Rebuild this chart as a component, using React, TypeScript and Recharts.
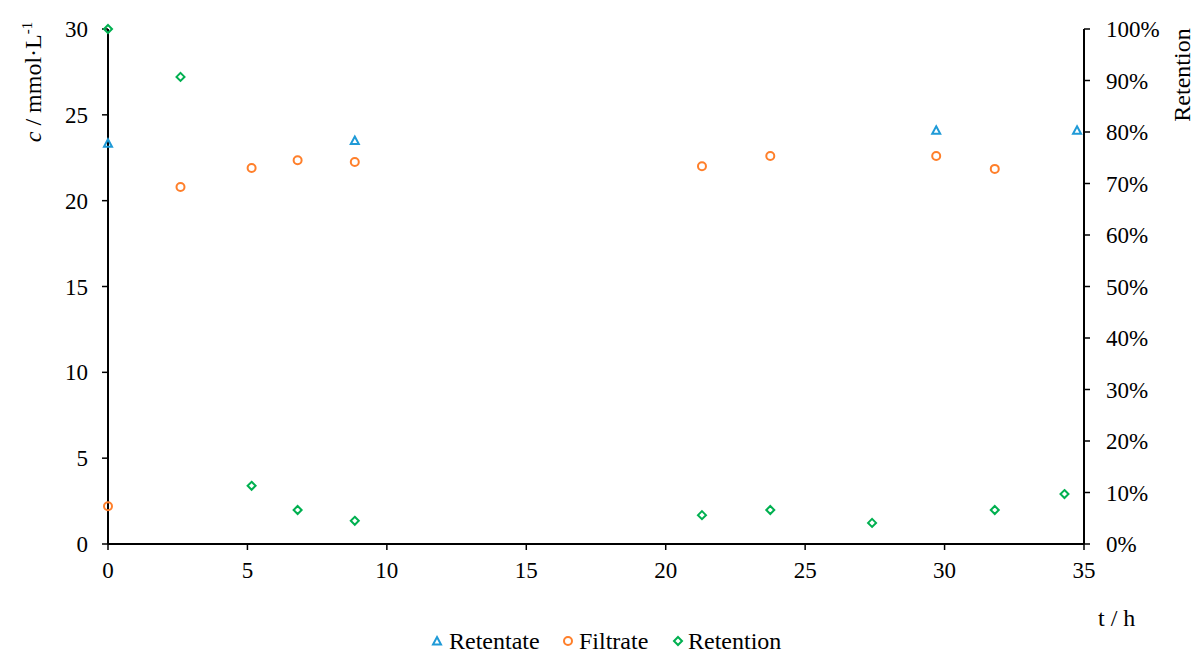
import { ScatterChart, Scatter, XAxis, YAxis } from 'recharts';

// Concentration samples (mmol/L) over time (h)
const retentateTime = [0, 8.85, 29.7, 34.75];
const retentateConc = [23.35, 23.5, 24.1, 24.1];

const filtrateTime = [0, 2.6, 5.15, 6.8, 8.85, 21.3, 23.75, 29.7, 31.8];
const filtrateConc = [2.2, 20.8, 21.9, 22.35, 22.25, 22.0, 22.6, 22.6, 21.85];

// Retention in percent, plotted on the right axis
const retentionTime = [0, 2.6, 5.15, 6.8, 8.85, 21.3, 23.75, 27.4, 31.8, 34.3];
const retentionPct = [100, 90.7, 11.3, 6.6, 4.5, 5.6, 6.6, 4.1, 6.6, 9.7];

const xTicks = [0, 5, 10, 15, 20, 25, 30, 35];
const leftTicks = [0, 5, 10, 15, 20, 25, 30];
const rightTicks = [0, 10, 20, 30, 40, 50, 60, 70, 80, 90, 100];

const BLUE = '#1f9ad7';
const ORANGE = '#ff7f2a';
const GREEN = '#00b050';
const FONT = '"Liberation Serif", "Times New Roman", serif';
const FS = 23;
const TITLE_FS = 24;

const zip = (xs: number[], ys: number[]) => xs.map((x, i) => ({ x, y: ys[i] }));

const retentateData = zip(retentateTime, retentateConc);
const filtrateData = zip(filtrateTime, filtrateConc);
const retentionData = zip(retentionTime, retentionPct);

function Triangle({ cx, cy }: any) {
  return (
    <path
      d={`M${cx},${cy - 4} L${cx + 4},${cy + 3.5} L${cx - 4},${cy + 3.5} Z`}
      fill="none"
      stroke={BLUE}
      strokeWidth={2}
    />
  );
}

function Ring({ cx, cy }: any) {
  return <circle cx={cx} cy={cy} r={4} fill="none" stroke={ORANGE} strokeWidth={2} />;
}

function Diamond({ cx, cy }: any) {
  return (
    <path
      d={`M${cx},${cy - 4} L${cx + 4},${cy} L${cx},${cy + 4} L${cx - 4},${cy} Z`}
      fill="none"
      stroke={GREEN}
      strokeWidth={2}
    />
  );
}

const tickStyle = { fill: '#000', fontSize: FS, fontFamily: FONT };
const axisLine = { stroke: '#000', strokeWidth: 2 };
const tickLine = { stroke: '#000', strokeWidth: 1.5 };

// legend entries: icon centre and label start along the bottom row
const legendItems = [
  { name: 'Retentate', Icon: Triangle, iconX: 437, textX: 449 },
  { name: 'Filtrate', Icon: Ring, iconX: 568, textX: 579 },
  { name: 'Retention', Icon: Diamond, iconX: 678, textX: 688 },
];

export default function App() {
  return (
    <div
      style={{
        position: 'absolute',
        left: 0,
        top: 0,
        width: 1196,
        height: 653,
        background: '#fff',
        fontFamily: FONT,
      }}
    >
      <ScatterChart
        width={1196}
        height={653}
        margin={{ top: 29, right: 0, bottom: 0, left: 0 }}
        style={{ fontFamily: FONT }}
      >
        <XAxis
          type="number"
          dataKey="x"
          domain={[0, 35]}
          ticks={xTicks}
          height={109}
          tick={tickStyle}
          tickSize={6}
          tickMargin={12}
          axisLine={axisLine}
          tickLine={tickLine}
          label={{
            content: ({ viewBox }: any) => (
              <text
                x={viewBox.x + viewBox.width + 14}
                y={viewBox.y + 82}
                fontSize={TITLE_FS}
                fontFamily={FONT}
                fill="#000"
              >
                t / h
              </text>
            ),
          }}
        />
        <YAxis
          yAxisId="c"
          type="number"
          dataKey="y"
          domain={[0, 30]}
          ticks={leftTicks}
          width={108}
          tick={tickStyle}
          tickSize={6}
          tickMargin={14}
          axisLine={axisLine}
          tickLine={tickLine}
          label={{
            content: ({ viewBox }: any) => {
              const x = viewBox.x + 41;
              const y = 82;
              return (
                <text
                  x={x}
                  y={y}
                  transform={`rotate(-90, ${x}, ${y})`}
                  textAnchor="middle"
                  fontSize={TITLE_FS}
                  fontFamily={FONT}
                  fill="#000"
                >
                  <tspan fontStyle="italic">c</tspan>
                  <tspan> / mmol·L</tspan>
                  <tspan fontSize={15} dy={-9}>-1</tspan>
                </text>
              );
            },
          }}
        />
        <YAxis
          yAxisId="r"
          orientation="right"
          type="number"
          dataKey="y"
          domain={[0, 100]}
          ticks={rightTicks}
          width={112}
          tick={{ ...tickStyle, textAnchor: 'start' }}
          tickFormatter={(v: number) => `${v}%`}
          tickSize={6}
          tickMargin={16}
          axisLine={axisLine}
          tickLine={tickLine}
          label={{
            content: ({ viewBox }: any) => {
              const x = viewBox.x + 106;
              const y = 75;
              return (
                <text
                  x={x}
                  y={y}
                  transform={`rotate(-90, ${x}, ${y})`}
                  textAnchor="middle"
                  fontSize={TITLE_FS}
                  fontFamily={FONT}
                  fill="#000"
                >
                  Retention
                </text>
              );
            },
          }}
        />
        <Scatter name="Retentate" data={retentateData} yAxisId="c" shape={<Triangle />} isAnimationActive={false} />
        <Scatter name="Filtrate" data={filtrateData} yAxisId="c" shape={<Ring />} isAnimationActive={false} />
        <Scatter name="Retention" data={retentionData} yAxisId="r" shape={<Diamond />} isAnimationActive={false} />
      </ScatterChart>
      <svg width={1196} height={653} style={{ position: 'absolute', left: 0, top: 0, pointerEvents: 'none' }}>
        {legendItems.map(({ name, Icon, iconX, textX }) => (
          <g key={name}>
            <Icon cx={iconX} cy={641} />
            <text x={textX} y={649} fontSize={TITLE_FS} fontFamily={FONT} fill="#000">
              {name}
            </text>
          </g>
        ))}
      </svg>
    </div>
  );
}
